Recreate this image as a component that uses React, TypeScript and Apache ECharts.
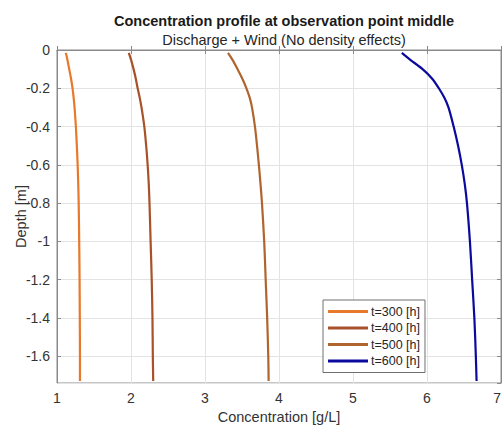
import React, { useEffect, useRef } from "react";
import * as echarts from "echarts";

const depths = [-0.015, -0.05, -0.1, -0.15, -0.2, -0.25, -0.3, -0.4, -0.5, -0.6, -0.7, -0.8, -1.0, -1.2, -1.4, -1.6, -1.73];
const seriesNames = ["t=300 [h]", "t=400 [h]", "t=500 [h]", "t=600 [h]"];
const conc300 = [1.12, 1.14, 1.165, 1.19, 1.21, 1.225, 1.237, 1.255, 1.268, 1.279, 1.287, 1.293, 1.3, 1.305, 1.308, 1.31, 1.31];
const conc400 = [1.97, 2.0, 2.035, 2.065, 2.09, 2.118, 2.142, 2.18, 2.205, 2.225, 2.24, 2.25, 2.265, 2.28, 2.29, 2.295, 2.3];
const conc500 = [3.31, 3.37, 3.44, 3.505, 3.56, 3.605, 3.635, 3.675, 3.703, 3.728, 3.75, 3.77, 3.8, 3.82, 3.84, 3.855, 3.86];
const conc600 = [5.66, 5.77, 5.94, 6.07, 6.16, 6.235, 6.29, 6.36, 6.42, 6.47, 6.51, 6.54, 6.58, 6.61, 6.64, 6.66, 6.67];
const colors = ["#E8782A", "#A8522A", "#B0652E", "#0A0A9E"];

export default function App() {
  const ref = useRef<HTMLDivElement>(null);
  useEffect(() => {
    document.body.style.margin = "0";
    if (!ref.current) return;
    const chart = echarts.init(ref.current, undefined, { renderer: "svg" });
    const all = [conc300, conc400, conc500, conc600];
    const font = "Liberation Sans, Arial, sans-serif";
    const axisColor = "#8a8a8a";
    const tickStyle = { show: true, inside: true, length: 4, lineStyle: { color: axisColor } };
    chart.setOption({
      animation: false,
      backgroundColor: "#ffffff",
      textStyle: { fontFamily: font },
      title: [
        {
          text: "Concentration profile at observation point middle",
          left: 279,
          top: 8,
          textAlign: "center",
          textStyle: { fontSize: 14.5, fontWeight: "bold", color: "#1a1a1a", fontFamily: font },
        },
        {
          text: "Discharge + Wind (No density effects)",
          left: 279,
          top: 27,
          textAlign: "center",
          textStyle: { fontSize: 14.5, fontWeight: "normal", color: "#262626", fontFamily: font },
        },
      ],
      grid: {
        left: 57,
        right: 2,
        top: 50,
        bottom: 46,
        outerBoundsMode: "none",
        containLabel: false,
        show: true,
        borderColor: axisColor,
        borderWidth: 1,
        backgroundColor: "#ffffff",
      },
      legend: {
        orient: "vertical",
        left: 323,
        top: 300,
        data: seriesNames,
        icon: "rect",
        itemWidth: 40,
        itemHeight: 3,
        itemGap: 3.5,
        padding: [5, 5, 5, 5],
        borderColor: "#707070",
        borderWidth: 1,
        backgroundColor: "#ffffff",
        textStyle: { fontSize: 12.5, color: "#262626", fontFamily: font, padding: [0, 0, 0, -2] },
      },
      xAxis: [
        {
          type: "value",
          min: 1,
          max: 7,
          interval: 1,
          name: "Concentration [g/L]",
          nameLocation: "middle",
          nameGap: 26,
          nameMoveOverlap: false,
          nameTextStyle: { fontSize: 14.5, color: "#333333" },
          axisLine: { show: true, lineStyle: { color: axisColor } },
          axisTick: tickStyle,
          axisLabel: { fontSize: 14, color: "#333333", margin: 8, alignMaxLabel: "right" },
          splitLine: { show: true, lineStyle: { color: "#e3e3e3" } },
        },
        {
          type: "value",
          position: "top",
          min: 1,
          max: 7,
          interval: 1,
          axisLine: { show: true, lineStyle: { color: axisColor } },
          axisTick: tickStyle,
          axisLabel: { show: false },
          splitLine: { show: false },
        },
      ],
      yAxis: [
        {
          type: "value",
          min: -1.74,
          max: 0,
          splitNumber: 9,
          minInterval: 0.2,
          maxInterval: 0.2,
          name: "Depth [m]",
          nameLocation: "middle",
          nameGap: 29,
          nameMoveOverlap: false,
          nameTextStyle: { fontSize: 14.5, color: "#333333" },
          axisLine: { show: true, lineStyle: { color: axisColor } },
          axisTick: tickStyle,
          axisLabel: {
            fontSize: 14,
            color: "#333333",
            margin: 7,
            showMinLabel: false,
          },
          splitLine: { show: true, lineStyle: { color: "#e3e3e3" } },
        },
        {
          type: "value",
          position: "right",
          min: -1.74,
          max: 0,
          splitNumber: 9,
          minInterval: 0.2,
          maxInterval: 0.2,
          axisLine: { show: true, lineStyle: { color: axisColor } },
          axisTick: tickStyle,
          axisLabel: { show: false },
          splitLine: { show: false },
        },
      ],
      series: seriesNames.map((name, i) => ({
        name,
        type: "line",
        xAxisIndex: 0,
        yAxisIndex: 0,
        showSymbol: false,
        symbol: "none",
        smooth: 0.3,
        color: colors[i],
        lineStyle: { width: 2.2, color: colors[i] },
        data: depths.map((d, k) => [all[i][k], d]),
      })),
    });
    return () => chart.dispose();
  }, []);
  return <div ref={ref} style={{ width: 503, height: 429 }} />;
}
